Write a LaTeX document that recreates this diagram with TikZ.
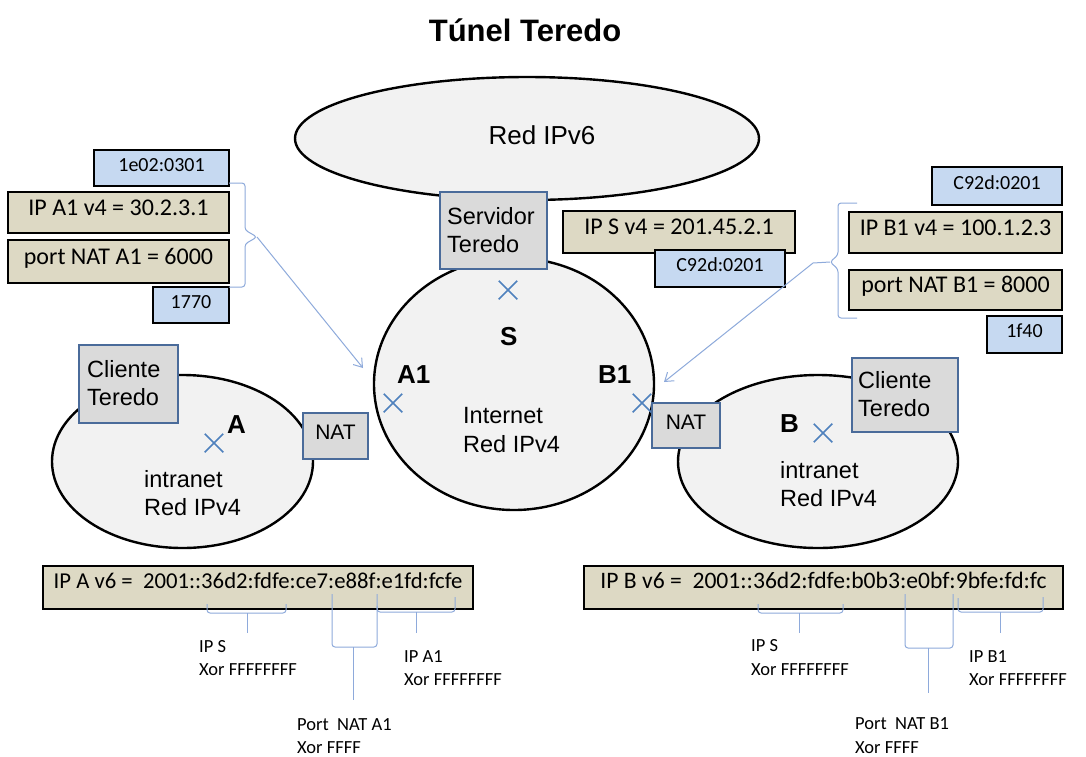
\documentclass[tikz,border=0pt]{standalone}
\usepackage{fontspec}
\setmainfont{Liberation Sans}
\newfontfamily\calibri{Carlito}
\usetikzlibrary{arrows.meta,shapes.geometric,shapes.misc}

\definecolor{netfill}{HTML}{F2F2F2}
\definecolor{devfill}{HTML}{DADADA}
\definecolor{devborder}{HTML}{4A6B9A}
\definecolor{ipfill}{HTML}{DDD9C4}
\definecolor{hexfill}{HTML}{C6D9F1}
\definecolor{crossblue}{HTML}{4F81BD}
\definecolor{linkblue}{HTML}{8EAADB}

\tikzset{
  net/.style={ellipse, draw=black, line width=2.4pt, fill=netfill, inner sep=0pt},
  dev/.style={rectangle, draw=devborder, line width=2.4pt, fill=devfill, inner sep=0pt},
  ipbox/.style={rectangle, draw=black, line width=1.8pt, fill=ipfill, inner sep=0pt,
    text=black, font=\calibri\fontsize{24}{28}\selectfont, text height=0.63em, text depth=0.1em},
  hexbox/.style={rectangle, draw=black, line width=1.8pt, fill=hexfill, inner sep=0pt,
    text=black, font=\calibri\fontsize{20}{24}\selectfont, text height=0.63em, text depth=0pt},
  v6box/.style={rectangle, draw=black, line width=2pt, fill=ipfill, inner sep=0pt,
    text=black, text height=0.63em, text depth=0.4em},
  txt/.style={inner sep=0pt, anchor=base west, text=black, font=\fontsize{23.5}{28}\selectfont},
  tag/.style={inner sep=0pt, anchor=base west, font=\bfseries\fontsize{26}{30}\selectfont},
  note/.style={inner sep=0pt, anchor=base west, text=black, font=\calibri\fontsize{18.5}{22}\selectfont},
  xmark/.style={cross out, draw=crossblue, line width=1.5pt, minimum size=17pt, inner sep=0pt},
  brace/.style={draw=linkblue, line width=1pt, rounded corners=3pt},
  link/.style={draw=linkblue, line width=1pt, -{Straight Barb[length=8pt,width=11pt]}},
}

\begin{document}
\begin{tikzpicture}[x=1pt,y=-1pt]
\fill[white] (0,0) rectangle (1086,756);
\useasboundingbox (0,0) rectangle (1086,756);

% title
\node[inner sep=0pt, anchor=base, font=\bfseries\fontsize{31}{36}\selectfont] (title) at (525,41) {Túnel Teredo};

% networks
\node[net, minimum width=464pt, minimum height=123pt] (ipv6) at (527,138.5) {};
\node[net, minimum width=280pt, minimum height=252pt] (inet) at (514,384) {};
\node[net, minimum width=261pt, minimum height=173pt] (intraA) at (182.5,461.5) {};
\node[net, minimum width=280pt, minimum height=173pt] (intraB) at (818,461.5) {};

\node[inner sep=0pt, anchor=base, font=\fontsize{26}{30}\selectfont] (ipv6txt) at (542,144) {Red IPv6};

\node[txt] (inet1) at (463,423) {Internet};
\node[txt] (inet2) at (463,452) {Red IPv4};
\node[txt] (intraA1) at (144,487) {intranet};
\node[txt] (intraA2) at (144,515) {Red IPv4};
\node[txt] (intraB1) at (780,478) {intranet};
\node[txt] (intraB2) at (780,506) {Red IPv4};

% end points
\node[xmark] (xS) at (508,290) {};
\node[xmark] (xA1) at (393,403) {};
\node[xmark] (xA) at (214,443) {};
\node[xmark] (xB1) at (642,403) {};
\node[xmark] (xB) at (823,433) {};

\node[tag] (tS) at (500,345) {S};
\node[tag] (tA1) at (397,383) {A1};
\node[tag] (tA) at (227,433) {A};
\node[tag] (tB1) at (598,383) {B1};
\node[tag] (tB) at (780,432) {B};

% devices
\node[dev, minimum width=107pt, minimum height=77pt] (srv) at (493.5,230.5) {};
\node[txt] (srv1) at (447,224) {Servidor};
\node[txt] (srv2) at (447,252) {Teredo};

\node[dev, minimum width=99pt, minimum height=78pt] (cliA) at (128.5,384) {};
\node[txt] (cliA1) at (87,377) {Cliente};
\node[txt] (cliA2) at (87,405) {Teredo};

\node[dev, minimum width=106pt, minimum height=74pt] (cliB) at (905,395) {};
\node[txt] (cliB1) at (858,388) {Cliente};
\node[txt] (cliB2) at (858,416) {Teredo};

\node[dev, minimum width=65pt, minimum height=46pt, font=\fontsize{21}{24}\selectfont,
      text height=0.72em, text depth=0pt] (natA) at (335.5,436) {NAT};
\node[dev, minimum width=68pt, minimum height=45pt, font=\fontsize{21}{24}\selectfont,
      text height=0.72em, text depth=0pt] (natB) at (686,425.5) {NAT};

% address of A1
\node[hexbox, minimum width=135pt, minimum height=36pt] (hexA1) at (161.5,168) {1e02:0301};
\node[ipbox, minimum width=221pt, minimum height=41pt] (ipA1) at (118.5,212.5) {IP A1 v4 = 30.2.3.1};
\node[ipbox, minimum width=221pt, minimum height=43pt] (portA1) at (118.5,261.5) {port NAT A1 = 6000};
\node[hexbox, minimum width=76pt, minimum height=36pt] (hexPA) at (191,305) {1770};

% address of S
\node[ipbox, minimum width=232pt, minimum height=42pt] (ipS) at (679,232) {IP S v4 = 201.45.2.1};
\node[hexbox, minimum width=130pt, minimum height=37pt] (hexS) at (720,268.5) {C92d:0201};

% address of B1
\node[hexbox, minimum width=130pt, minimum height=38pt] (hexB1) at (997,186) {C92d:0201};
\node[ipbox, minimum width=213pt, minimum height=41pt] (ipB1) at (955.5,232.5) {IP B1 v4 = 100.1.2.3};
\node[ipbox, minimum width=213pt, minimum height=40pt] (portB1) at (955.5,290) {port NAT B1 = 8000};
\node[hexbox, minimum width=75pt, minimum height=37pt] (hexPB) at (1024.5,334.5) {1f40};

% braces and pointers
\draw[brace] (229,183) -| (245,230) -- (257,237) -- (245,244) |- (229,287);
\coordinate (bA) at (257,237);
\coordinate (tipA) at (363,368);
\draw[link] (bA) -- (tipA);

\draw[brace] (857,203) -| (838,255) -- (830,262) -- (838,269) |- (857,318);
\coordinate (bB) at (830,262);
\coordinate (kB) at (813,263);
\coordinate (tipB) at (664,382);
\draw[link] (bB) -- (kB) -- (tipB);

% IPv6 addresses
\node[v6box, minimum width=430pt, minimum height=43pt, font=\calibri\fontsize{22.7}{26}\selectfont]
  (v6A) at (258,587.5) {IP A v6 = ~2001::36d2:fdfe:ce7:e88f:e1fd:fcfe};
\node[v6box, minimum width=479pt, minimum height=43pt, font=\calibri\fontsize{23.6}{26}\selectfont]
  (v6B) at (823.5,587.5) {IP B v6 = ~2001::36d2:fdfe:b0b3:e0bf:9bfe:fd:fc};

% field brackets under A
\draw[brace] (207,604) -- (207,613) -- (286,613) -- (286,604);
\draw[brace] (247,613) -- (247,633);
\draw[brace] (332,594) -- (332,647) -- (377,647) -- (377,594);
\draw[brace] (353,647) -- (353,700);
\draw[brace] (377,606) -- (377,612) -- (455,612) -- (455,597);
\draw[brace] (416,612) -- (416,633);

\node[note] (nSA1) at (199,652) {IP S};
\node[note] (nSA2) at (199,675) {Xor FFFFFFFF};
\node[note] (nPA1) at (297,730) {Port~ NAT A1};
\node[note] (nPA2) at (297,753) {Xor FFFF};
\node[note] (nA11) at (404,662) {IP A1};
\node[note] (nA12) at (404,685) {Xor FFFFFFFF};

% field brackets under B
\draw[brace] (758,604) -- (758,613) -- (843,613) -- (843,604);
\draw[brace] (799,613) -- (799,633);
\draw[brace] (905,594) -- (905,648) -- (953,648) -- (953,594);
\draw[brace] (928,648) -- (928,693);
\draw[brace] (958,598) -- (958,612) -- (1043,612) -- (1043,597);
\draw[brace] (1000,612) -- (1000,633);

\node[note] (nSB1) at (751,651) {IP S};
\node[note] (nSB2) at (751,675) {Xor FFFFFFFF};
\node[note] (nPB1) at (855,729) {Port~ NAT B1};
\node[note] (nPB2) at (855,753) {Xor FFFF};
\node[note] (nB11) at (969,662) {IP B1};
\node[note] (nB12) at (969,685) {Xor FFFFFFFF};
\end{tikzpicture}
\end{document}
